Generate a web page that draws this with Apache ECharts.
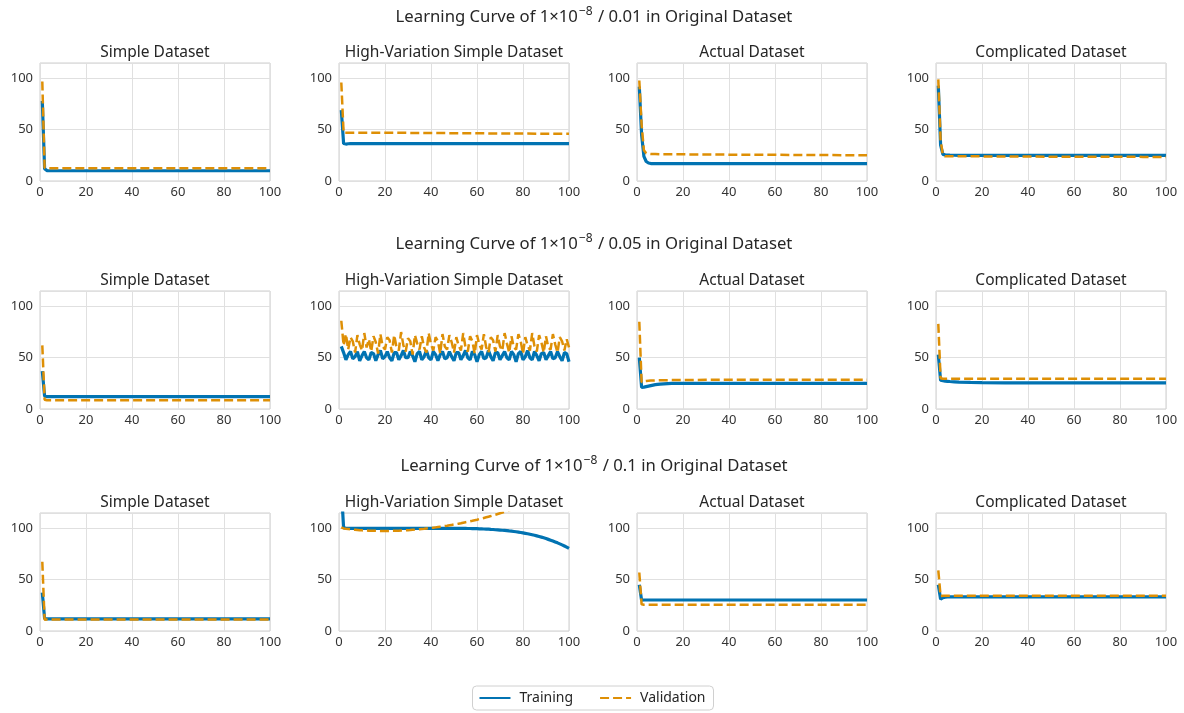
<!DOCTYPE html>
<html><head><meta charset="utf-8">
<script src="https://cdn.jsdelivr.net/npm/echarts@6.0.0/dist/echarts.min.js"></script>
<style>html,body{margin:0;padding:0;background:#fff}#c{width:1184px;height:713px}</style>
</head><body><div id="c"></div>
<script>
// ---------------- DATA ----------------
const ROW_TITLES_LR = ['0.01', '0.05', '0.1'];
const COL_TITLES = ['Simple Dataset', 'High-Variation Simple Dataset', 'Actual Dataset', 'Complicated Dataset'];
const SERIES_NAMES = ['Training', 'Validation'];
const X_TICKS = [0, 20, 40, 60, 80, 100];
const Y_TICKS = [0, 50, 100];

// epochs at which the (mostly flat) curves are sampled
const EPOCHS_SPARSE = [1, 2, 3, 4, 5, 6, 8, 10, 15, 20, 30, 40, 50, 60, 70, 80, 90, 100];

// Row 1: lr 0.01
const simple001Train = [78, 12, 10.2, 10, 10, 10, 10, 10, 10, 10, 10, 10, 10, 10, 10, 10, 10, 10];
const simple001Val   = [97, 13, 12.5, 12.5, 12.5, 12.5, 12.5, 12.5, 12.5, 12.5, 12.5, 12.5, 12.5, 12.5, 12.5, 12.5, 12.5, 12.5];
const hv001Train     = [69, 36.5, 36, 36.3, 36.5, 36.5, 36.5, 36.5, 36.5, 36.5, 36.5, 36.5, 36.5, 36.5, 36.5, 36.5, 36.5, 36.5];
const hv001Val       = [96, 47, 47, 47, 47, 47, 47, 47, 47, 47, 46.9, 46.8, 46.6, 46.5, 46.3, 46.2, 46.1, 46];
const actual001Train = [92, 45, 24, 19, 17.5, 17, 17, 17, 17, 17, 17, 17, 17, 17, 17, 17, 17, 17];
const actual001Val   = [98, 55, 30, 27, 26.5, 26.3, 26.2, 26, 26, 26, 25.8, 25.7, 25.6, 25.5, 25.4, 25.3, 25.2, 25.1];
const comp001Train   = [93, 35, 26, 25.5, 25.3, 25.2, 25.1, 25, 25, 25, 25, 25, 25, 25, 25, 25, 25, 25];
const comp001Val     = [99, 40, 25, 24, 24, 24, 24, 24, 24, 24, 23.9, 23.8, 23.7, 23.7, 23.6, 23.6, 23.5, 23.5];

// Row 2: lr 0.05
const simple005Train = [37, 12.5, 12, 12, 12, 12, 12, 12, 12, 12, 12, 12, 12, 12, 12, 12, 12, 12];
const simple005Val   = [62, 9, 8.5, 8.5, 8.5, 8.5, 8.5, 8.5, 8.5, 8.5, 8.5, 8.5, 8.5, 8.5, 8.5, 8.5, 8.5, 8.5];
const hv005Train = [
  61, 55, 48, 53, 56, 49, 51, 56, 47, 52,
  56, 50, 48, 55, 54, 47, 53, 57, 49, 51,
  56, 50, 47, 55, 55, 48, 52, 57, 50, 50,
  56, 52, 46, 54, 56, 48, 51, 57, 50, 48,
  56, 53, 47, 53, 56, 49, 50, 56, 51, 47,
  55, 55, 48, 52, 57, 50, 48, 56, 53, 46,
  53, 56, 49, 50, 57, 51, 47, 55, 55, 48,
  52, 56, 50, 48, 56, 53, 46, 54, 56, 48,
  51, 57, 50, 48, 56, 52, 47, 54, 55, 48,
  52, 56, 49, 50, 56, 51, 47, 55, 54, 46];
const hv005Val = [
  86, 62, 73, 58, 70, 66, 55, 72, 63, 57,
  74, 60, 68, 56, 71, 65, 54, 73, 61, 58,
  70, 67, 55, 72, 60, 57, 75, 62, 56, 69,
  66, 53, 72, 64, 58, 71, 60, 55, 74, 63,
  57, 70, 66, 54, 73, 61, 58, 72, 65, 55,
  70, 62, 57, 74, 60, 56, 71, 66, 54, 72,
  63, 58, 73, 60, 55, 70, 67, 56, 72, 61,
  57, 74, 64, 55, 71, 60, 58, 73, 66, 54,
  70, 62, 57, 74, 61, 56, 72, 65, 55, 71,
  60, 58, 73, 63, 55, 70, 66, 57, 68, 60];
const actual005Train = [50, 21, 21.3, 21.8, 22.3, 22.8, 23.7, 24.3, 24.9, 25, 25, 25, 25, 25, 25, 25, 25, 25];
const actual005Val   = [85, 26, 27, 27.3, 27.5, 27.7, 27.9, 28, 28.2, 28.3, 28.4, 28.4, 28.4, 28.4, 28.4, 28.4, 28.4, 28.4];
const comp005Train   = [53, 28, 27.5, 27.2, 27, 26.8, 26.5, 26.2, 25.9, 25.7, 25.5, 25.4, 25.4, 25.4, 25.4, 25.4, 25.4, 25.4];
const comp005Val     = [83, 30, 29.5, 29.5, 29.5, 29.5, 29.5, 29.5, 29.5, 29.5, 29.5, 29.5, 29.5, 29.5, 29.5, 29.5, 29.5, 29.5];

// Row 3: lr 0.1
const simple01Train = [37.5, 12, 11.8, 11.8, 11.8, 11.8, 11.8, 11.8, 11.8, 11.8, 11.8, 11.8, 11.8, 11.8, 11.8, 11.8, 11.8, 11.8];
const simple01Val   = [67.5, 11, 11.2, 11.2, 11.2, 11.2, 11.2, 11.2, 11.2, 11.2, 11.2, 11.2, 11.2, 11.2, 11.2, 11.2, 11.2, 11.2];
const hv01Train = [
  140, 100.4, 100.2, 100.1, 100, 100, 100, 100, 100, 100,
  100, 100, 100, 100, 100, 100, 100, 100, 100, 100,
  100, 100, 100, 100, 100, 100, 100, 100, 100, 100,
  100, 100, 100, 100, 100, 100, 100, 100, 100, 100,
  100, 100, 100, 100, 100, 100, 100, 100, 100, 100,
  100, 100, 100, 100, 100, 99.9, 99.9, 99.8, 99.8, 99.7,
  99.6, 99.5, 99.4, 99.3, 99.2, 99.0, 98.9, 98.7, 98.6, 98.4,
  98.2, 98.0, 97.8, 97.5, 97.3, 97.0, 96.7, 96.4, 96.0, 95.6,
  95.2, 94.8, 94.3, 93.8, 93.3, 92.7, 92.1, 91.5, 90.8, 90.1,
  89.3, 88.5, 87.7, 86.8, 85.9, 84.9, 83.9, 82.8, 81.7, 80.5];
const hv01Val = [
  101, 100, 99.6, 99.3, 99.0, 98.8, 98.6, 98.4, 98.2, 98.1,
  98.0, 97.9, 97.8, 97.7, 97.6, 97.6, 97.5, 97.5, 97.5, 97.5,
  97.5, 97.5, 97.6, 97.6, 97.7, 97.8, 97.9, 98.0, 98.1, 98.3,
  98.4, 98.6, 98.8, 99.0, 99.2, 99.4, 99.6, 99.9, 100.1, 100.4,
  100.7, 101.0, 101.3, 101.6, 101.9, 102.3, 102.6, 103.0, 103.4, 103.8,
  104.2, 104.6, 105.0, 105.5, 106.0, 106.4, 106.9, 107.4, 108.0, 108.5,
  109.1, 109.6, 110.2, 110.8, 111.4, 112.0, 112.7, 113.3, 114.0, 114.7,
  115.4, 116.1, 116.9, 117.6, 118.4, 119.2, 120.0, 120.9, 121.7, 122.6,
  123.5, 124.4, 125.4, 126.4, 127.4, 128.4, 129.5, 130.6, 131.7, 132.8,
  134.0, 135.2, 136.4, 137.6, 138.9, 140.2, 141.5, 142.9, 144.3, 145.7];
const actual01Train = [45, 30, 30.2, 30.2, 30.2, 30.2, 30.2, 30.2, 30.2, 30.2, 30.2, 30.2, 30.2, 30.2, 30.2, 30.2, 30.2, 30.2];
const actual01Val   = [57, 26, 25.5, 25.5, 25.5, 25.5, 25.5, 25.5, 25.5, 25.5, 25.5, 25.5, 25.5, 25.5, 25.5, 25.5, 25.5, 25.5];
const comp01Train   = [45, 31, 32.5, 33, 33.3, 33.3, 33.3, 33.3, 33.3, 33.3, 33.3, 33.3, 33.3, 33.3, 33.3, 33.3, 33.3, 33.3];
const comp01Val     = [59, 34, 34.3, 34.3, 34.3, 34.3, 34.3, 34.3, 34.3, 34.3, 34.3, 34.3, 34.3, 34.3, 34.3, 34.3, 34.3, 34.3];

// ---------------- BUILD ----------------
function sparse(arr) { return EPOCHS_SPARSE.map((e, i) => [e, arr[i]]); }
function full(arr) { return arr.map((v, i) => [i + 1, v]); }

const PANELS = [
  [sparse(simple001Train), sparse(simple001Val)], [sparse(hv001Train), sparse(hv001Val)],
  [sparse(actual001Train), sparse(actual001Val)], [sparse(comp001Train), sparse(comp001Val)],
  [sparse(simple005Train), sparse(simple005Val)], [full(hv005Train), full(hv005Val)],
  [sparse(actual005Train), sparse(actual005Val)], [sparse(comp005Train), sparse(comp005Val)],
  [sparse(simple01Train), sparse(simple01Val)], [full(hv01Train), full(hv01Val)],
  [sparse(actual01Train), sparse(actual01Val)], [sparse(comp01Train), sparse(comp01Val)]
];

const FONT = '"Noto Sans", "Open Sans", sans-serif';
const BLUE = '#0173B2', ORANGE = '#DE8F05';
const LEFTS = [40, 339, 637, 936], TOPS = [63, 291, 513], W = 230, H = 118;
const ROW_TITLE_Y = [17, 244, 466], SUB_TITLE_Y = [53, 281, 503];

const grids = [], xAxes = [], yAxes = [], series = [], graphics = [];
for (let r = 0; r < 3; r++) {
  graphics.push({
    type: 'text', x: 594, y: ROW_TITLE_Y[r],
    style: {
      text: '{t|Learning Curve of 1×10}{s|−8}{t| / ' + ROW_TITLES_LR[r] + ' in Original Dataset}',
      rich: {
        t: { fontSize: 16.7, fontFamily: FONT, fill: '#262626', color: '#262626' },
        s: { fontSize: 12, fontFamily: FONT, fill: '#262626', color: '#262626', verticalAlign: 'top', padding: [0, 1, 10, 1] }
      },
      align: 'center', verticalAlign: 'middle', textAlign: 'center', textVerticalAlign: 'middle'
    }
  });
  for (let c = 0; c < 4; c++) {
    const k = r * 4 + c;
    grids.push({ left: LEFTS[c], top: TOPS[r], width: W, height: H, show: true, borderColor: '#cfcfcf', borderWidth: 1, containLabel: false });
    xAxes.push({
      type: 'value', gridIndex: k, min: X_TICKS[0], max: X_TICKS[X_TICKS.length - 1], interval: 20,
      axisLine: { show: false }, axisTick: { show: false },
      axisLabel: { color: '#333', fontSize: 13, fontFamily: FONT, margin: 5 },
      splitLine: { show: true, lineStyle: { color: '#e0e0e0', width: 1 } }
    });
    yAxes.push({
      type: 'value', gridIndex: k, min: 0, max: 115, interval: 50,
      axisLine: { show: false }, axisTick: { show: false },
      axisLabel: { color: '#333', fontSize: 13, fontFamily: FONT, margin: 7, showMaxLabel: false,
        formatter: v => (Y_TICKS.indexOf(v) >= 0 ? String(v) : '') },
      splitLine: { show: true, lineStyle: { color: '#e0e0e0', width: 1 } }
    });
    series.push({
      name: SERIES_NAMES[0], type: 'line', xAxisIndex: k, yAxisIndex: k, data: PANELS[k][0],
      showSymbol: false, symbol: 'none', clip: true,
      lineStyle: { color: BLUE, width: 3.2 }, itemStyle: { color: BLUE }, z: 2
    });
    series.push({
      name: SERIES_NAMES[1], type: 'line', xAxisIndex: k, yAxisIndex: k, data: PANELS[k][1],
      showSymbol: false, symbol: 'none', clip: true,
      lineStyle: { color: ORANGE, width: 2.5, type: [9, 4] }, itemStyle: { color: ORANGE }, z: 3
    });
    graphics.push({
      type: 'text', x: LEFTS[c] + W / 2, y: SUB_TITLE_Y[r],
      style: { text: COL_TITLES[c], fontSize: 15.5, fontFamily: FONT, fill: '#262626',
        align: 'center', verticalAlign: 'middle', textAlign: 'center', textVerticalAlign: 'middle' }
    });
  }
}

const chart = echarts.init(document.getElementById('c'), null, { renderer: 'canvas' });
chart.setOption({
  animation: false,
  backgroundColor: '#fff',
  grid: grids, xAxis: xAxes, yAxis: yAxes, series: series, graphic: graphics,
  legend: {
    show: true,
    data: SERIES_NAMES, left: 'center', top: 686, orient: 'horizontal',
    itemWidth: 31, itemHeight: 12, itemGap: 26,
    itemStyle: { opacity: 0 },
    textStyle: { fontSize: 14, fontFamily: FONT, color: '#262626', padding: [0, 0, 0, 4] },
    borderColor: '#d0d0d0', borderWidth: 1, borderRadius: 4, padding: [5, 8, 5, 6]
  }
});
</script></body></html>
